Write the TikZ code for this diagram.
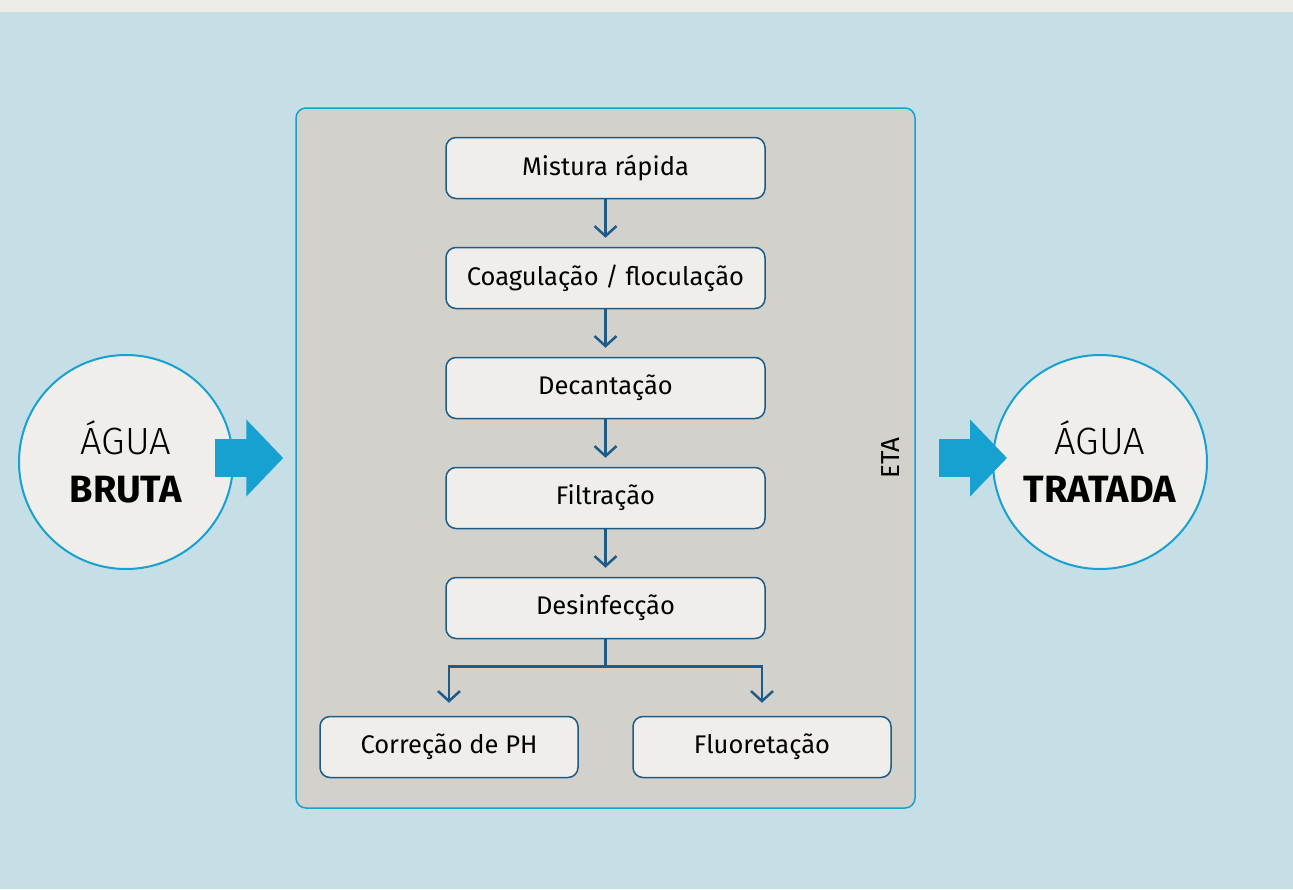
\documentclass[tikz,border=0pt]{standalone}
\usepackage{fontspec}
\setmainfont{Fira Sans}
\newfontfamily\lightfont{Fira Sans Light}
\usetikzlibrary{positioning, arrows.meta}
\definecolor{skyback}{HTML}{C6DFE7}
\definecolor{paperstrip}{HTML}{EEEBE6}
\definecolor{panelgray}{HTML}{D3D1CC}
\definecolor{boxfill}{HTML}{EFEEEA}
\definecolor{etablue}{HTML}{1E5C87}
\definecolor{arrowcyan}{HTML}{16A1D1}
\begin{document}
\begin{tikzpicture}
[x=1pt, y=-1pt,
stepbox/.style={rectangle, rounded corners=10pt, draw=etablue, line width=1.5pt, fill=boxfill, minimum width=319pt, minimum height=61pt, inner sep=0pt, font=\fontsize{25.5}{30}\selectfont},
endbox/.style={stepbox, minimum width=258pt},
panel/.style={rectangle, rounded corners=10pt, draw=arrowcyan, line width=1.5pt, fill=panelgray, minimum width=619pt, minimum height=700pt, inner sep=0pt},
water/.style={circle, draw=arrowcyan, line width=2pt, fill=boxfill, minimum size=214pt, inner sep=0pt, align=center, font=\fontsize{38}{48}\selectfont},
flow/.style={draw=etablue, line width=2.5pt, shorten >=9pt, -{Straight Barb[length=10pt, width=22pt]}},
bigarrow/.style={draw=arrowcyan, line width=38pt, -{Triangle[length=37pt, width=75pt]}}]

% background
\useasboundingbox (0,0) rectangle (1293,889);
\fill[skyback] (0,0) rectangle (1293,889);
\fill[paperstrip] (0,0) rectangle (1293,12);

% treatment plant
\node (eta) [panel] at (605.5,458) {};
\node (etalabel) [rotate=90, font=\fontsize{26}{30}\selectfont] at ([xshift=-25pt]eta.east) {ETA};

\node (mistura) [stepbox] at (605.5,168) {Mistura rápida};
\node (coagul) [stepbox, below=47.5pt of mistura] {Coagulação / floculação};
\node (decant) [stepbox, below=47.5pt of coagul] {Decantação};
\node (filtra) [stepbox, below=47.5pt of decant] {Filtração};
\node (desinf) [stepbox, below=47.5pt of filtra] {Desinfecção};
\node (ph) [endbox] at (449,747) {Correção de PH};
\node (fluor) [endbox] at (762,747) {Fluoretação};

\draw[flow] (mistura) -- (coagul);
\draw[flow] (coagul) -- (decant);
\draw[flow] (decant) -- (filtra);
\draw[flow] (filtra) -- (desinf);
\draw[flow, shorten >=13pt] (desinf.south) -- ++(0,27) -| (ph.north);
\draw[flow, shorten >=13pt] (desinf.south) -- ++(0,27) -| (fluor.north);

% raw and treated water
\node (bruta) [water] at (126,462) {{\lightfont ÁGUA}\\\textbf{BRUTA}};
\node (tratada) [water] at (1100,462) {{\lightfont ÁGUA}\\\textbf{TRATADA}};

\draw[bigarrow] ([xshift=-19pt]bruta.east |- eta.west) -- ([xshift=-12pt]eta.west);
\draw[bigarrow] ([xshift=23pt]eta.east) -- ([xshift=15pt]tratada.west |- eta.east);
\end{tikzpicture}
\end{document}
